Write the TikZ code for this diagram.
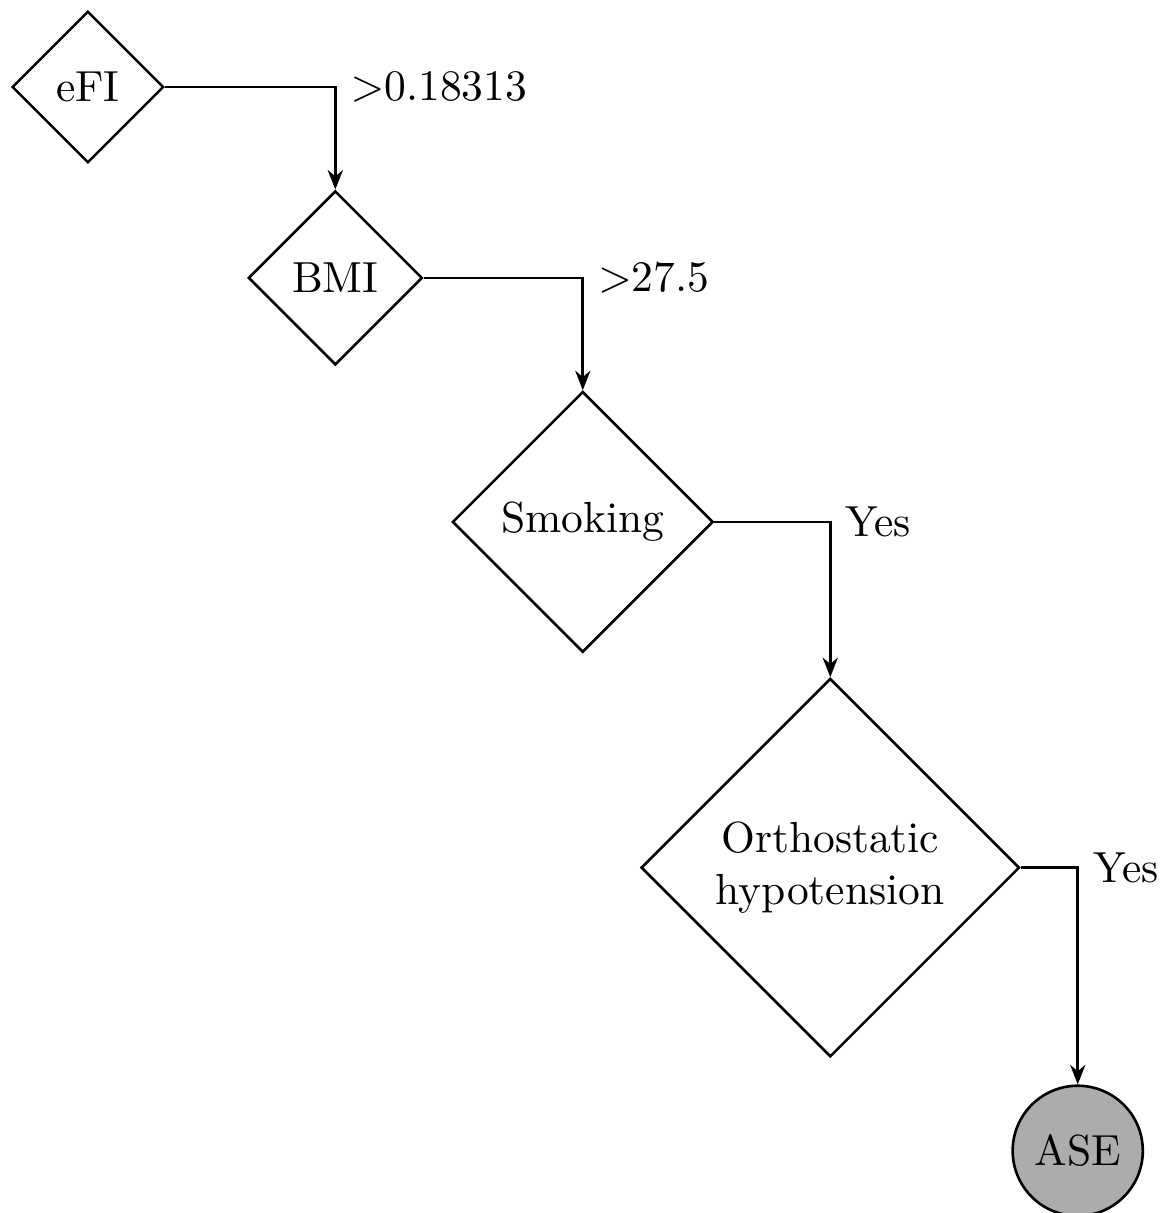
\documentclass[tikz,border=0pt]{standalone}
\usetikzlibrary{shapes.geometric}
\usetikzlibrary{arrows.meta}
\tikzset{>={Stealth[width=3.5pt,length=4.5pt]}}

\begin{document}
\begin{tikzpicture}[
    decision/.style={draw, diamond, aspect=1, align=center, semithick},
    outcome/.style={draw, circle, fill=gray!65, semithick},
    branch/.style={->, semithick},
    cond/.style={anchor=west}]

  \newcommand\X{56.9pt};

  \useasboundingbox (0pt,0pt) rectangle (268.7pt,-278.9pt);

  % decision nodes, one step right per level
  \node[decision] (efi)   at (20.2pt,       -20.0pt)  {eFI};
  \node[decision] (bmi)   at (20.2pt+\X,    -63.9pt)  {BMI};
  \node[decision] (smoke) at (20.2pt+2*\X,  -120.0pt) {Smoking};
  \node[decision] (ortho) at (20.2pt+3*\X,  -199.5pt) {Orthostatic\\hypotension};
  \node[outcome]  (ase)   at (20.2pt+4*\X,  -264.6pt) {ASE};

  % branches
  \draw[branch] (efi.east)   -| coordinate(c1) (bmi.north);
  \draw[branch] (bmi.east)   -| coordinate(c2) (smoke.north);
  \draw[branch] (smoke.east) -| coordinate(c3) (ortho.north);
  \draw[branch] (ortho.east) -| coordinate(c4) (ase.north);

  \node[cond] (l1) at (c1) {$>$0.18313};
  \node[cond] (l2) at (c2) {$>$27.5};
  \node[cond] (l3) at (c3) {Yes};
  \node[cond] (l4) at (c4) {Yes};

\end{tikzpicture}
\end{document}
